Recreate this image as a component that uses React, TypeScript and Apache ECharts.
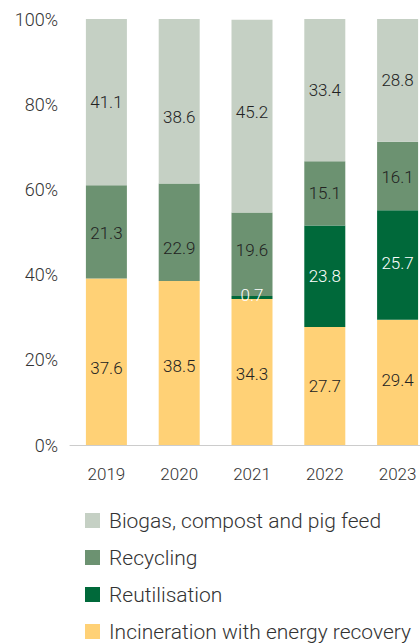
import React, { useEffect, useRef } from "react";
import * as echarts from "echarts";

const years = ["2019", "2020", "2021", "2022", "2023"];
// printed values (labels)
const incineration = [37.6, 38.5, 34.3, 27.7, 29.4];
const reutilisation = [0, 0, 0.7, 23.8, 25.7];
const recycling = [21.3, 22.9, 19.6, 15.1, 16.1];
const biogas = [41.1, 38.6, 45.2, 33.4, 28.8];
// bar heights as drawn in the picture (the 2019 bar is drawn slightly off its labels)
const incinerationDrawn = [39.1, 38.5, 34.3, 27.7, 29.4];
const reutilisationDrawn = [0, 0, 0.7, 23.8, 25.7];
const recyclingDrawn = [21.9, 22.9, 19.6, 15.1, 16.1];
const biogasDrawn = [39.0, 38.6, 45.2, 33.4, 28.8];
const yTicks = ["0%", "20%", "40%", "60%", "80%", "100%"];
const legendNames = [
  "Biogas, compost and pig feed",
  "Recycling",
  "Reutilisation",
  "Incineration with energy recovery",
];

const FONT = "Roboto, 'Noto Sans', sans-serif";

export default function App() {
  const ref = useRef<HTMLDivElement>(null);
  useEffect(() => {
    if (!ref.current) return;
    const chart = echarts.init(ref.current, undefined, { renderer: "svg" });
    // vertical label nudges (style), per series per year
    const nudge: Record<string, number[]> = {
      inc: [6, 3, 2, 0, -2],
      reu: [0, 0, -2, 0, -2],
      rec: [1, 16, -4, 0, 1],
      bio: [0, 16, -4, 0, 0],
    };
    const mk = (
      name: string,
      drawn: number[],
      printed: number[],
      offs: number[],
      color: string,
      labelColor: string
    ) => ({
      name,
      type: "bar",
      stack: "total",
      barWidth: 41,
      itemStyle: { color },
      data: drawn.map((v, i) => ({
        value: v,
        label: {
          show: printed[i] > 0,
          offset: [0, offs[i]],
          formatter: printed[i].toFixed(1),
        },
      })),
      label: {
        show: true,
        position: "inside",
        color: labelColor,
        fontSize: 17,
        fontFamily: FONT,
        fontWeight: 300,
      },
      emphasis: { disabled: true },
    });
    chart.setOption({
      animation: false,
      textStyle: { fontFamily: FONT },
      grid: {
        left: 70,
        width: 364,
        top: 19,
        height: 426,
        containLabel: false,
        outerBoundsMode: "none",
      },
      xAxis: {
        type: "category",
        data: years,
        axisLine: { lineStyle: { color: "#cccccc", width: 1 } },
        axisTick: { show: false },
        axisLabel: { color: "#333", fontSize: 17, fontFamily: FONT, fontWeight: 300, margin: 20 },
      },
      yAxis: {
        type: "value",
        min: 0,
        max: 100,
        interval: 20,
        axisLine: { show: false },
        axisTick: { show: false },
        splitLine: { show: false },
        axisLabel: {
          color: "#333",
          fontSize: 18,
          fontFamily: FONT,
          fontWeight: 300,
          margin: 12,
          formatter: (v: number) => yTicks[Math.round(v / 20)],
        },
      },
      legend: {
        orient: "vertical",
        left: 85,
        top: 510,
        padding: 0,
        itemWidth: 15,
        itemHeight: 15,
        itemGap: 16,
        icon: "rect",
        data: legendNames,
        textStyle: { color: "#333", fontSize: 21, fontFamily: FONT, fontWeight: 300, padding: [0, 0, 0, 4] },
        selectedMode: false,
      },
      series: [
        mk(legendNames[3], incinerationDrawn, incineration, nudge.inc, "#FFD176", "#222"),
        mk(legendNames[2], reutilisationDrawn, reutilisation, nudge.reu, "#00693A", "#ffffff"),
        mk(legendNames[1], recyclingDrawn, recycling, nudge.rec, "#6C9271", "#222"),
        mk(legendNames[0], biogasDrawn, biogas, nudge.bio, "#C5D0C4", "#222"),
      ],
    });
    return () => chart.dispose();
  }, []);
  return (
    <div
      ref={ref}
      style={{ position: "absolute", left: 0, top: 0, width: 420, height: 643 }}
    />
  );
}
